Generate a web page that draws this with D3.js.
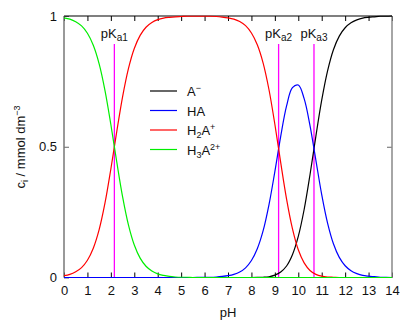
<!DOCTYPE html>
<html>
<head>
<meta charset="utf-8">
<script src="https://cdn.jsdelivr.net/npm/d3@7"></script>
<style>
  body { margin: 0; background: #fff; }
  text { font-family: "Liberation Sans", Arial, sans-serif; fill: #111; }
</style>
</head>
<body>
<div id="chart"></div>
<script>
// pH grid, step 0.25
var pH = d3.range(0, 57).map(i => i / 4);

// fractions
var A_minus = [0,0,0,0,0,0,0,0, 0,0,0,0,0,0,0,0, 0,0,0,0,0,0,0,0, 0,0,0,0,0,0,0,0,
  0,0.0004,0.001,0.003,0.009,0.021,0.044,0.087,0.157,0.260,0.393,0.540,0.678,0.790,0.871,0.923,
  0.955,0.974,0.985,0.992,0.995,0.997,0.999,0.999,1.000];
var HA = [0,0,0,0,0,0,0,0, 0,0,0,0,0,0,0,0, 0,0,0,0,0,0,0,0.0003,
  0.001,0.001,0.002,0.004,0.007,0.012,0.021,0.037,0.065,0.110,0.179,0.279,0.405,0.540,0.656,0.726,
  0.736,0.684,0.581,0.449,0.317,0.208,0.129,0.077,0.045,0.026,0.015,0.008,0.005,0.003,0.001,0.001,0];
var H2A = [0.007,0.012,0.022,0.038,0.066,0.112,0.183,0.285,0.415,0.557,0.691,0.799,0.876,0.926,0.957,0.975,
  0.986,0.992,0.995,0.997,0.998,0.999,0.999,0.999,0.999,0.999,0.998,0.996,0.993,0.988,0.979,0.963,
  0.935,0.890,0.820,0.718,0.586,0.439,0.300,0.187,0.106,0.056,0.027,0.012,0.005,0.002,0.001,0,
  0,0,0,0,0,0,0,0,0];
var H3A = [0.993,0.988,0.978,0.962,0.934,0.888,0.817,0.715,0.585,0.443,0.309,0.201,0.124,0.074,0.043,0.025,
  0.014,0.008,0.004,0.002,0.001,0.001,0,0, 0,0,0,0,0,0,0,0, 0,0,0,0,0,0,0,0, 0,0,0,0,0,0,0,0,
  0,0,0,0,0,0,0,0,0];

var pKa = [2.15, 9.16, 10.67];
var pKaNames = ['a1', 'a2', 'a3'];
var xTicks = d3.range(0, 15);
var yTicks = [0, 0.5, 1];

var series = [
  {name: 'A', sub: '', sup: '\u2212', values: A_minus, color: '#000000'},
  {name: 'HA', sub: '', sup: '', values: HA, color: '#0000ff'},
  {name: 'H', sub: '2', rest: 'A', sup: '+', values: H2A, color: '#ff0000'},
  {name: 'H', sub: '3', rest: 'A', sup: '2+', values: H3A, color: '#00ee00'}
];

const chart_width = 400;
const chart_height = 322;

var svg = d3.select('#chart')
  .append('svg')
  .attr('width', chart_width)
  .attr('height', chart_height);

var x = d3.scaleLinear().domain([0, 14]).range([64, 392]);
var y = d3.scaleLinear().domain([0, 1]).range([277.5, 16]);

// axes with inward ticks
svg.append('g')
  .attr('transform', 'translate(0,' + y(0) + ')')
  .call(d3.axisBottom(x).tickValues(xTicks).tickSize(-5).tickPadding(8).tickFormat(d3.format('d')))
  .call(g => g.select('.domain').remove())
  .call(g => g.selectAll('text').attr('font-size', 13).attr('font-family', null));

svg.append('g')
  .attr('transform', 'translate(0,' + y(1) + ')')
  .call(d3.axisTop(x).tickValues(xTicks).tickSize(-5).tickFormat(''))
  .call(g => g.select('.domain').remove());

svg.append('g')
  .attr('transform', 'translate(' + x(0) + ',0)')
  .call(d3.axisLeft(y).tickValues(yTicks).tickSize(-5).tickPadding(7).tickFormat(d => d === 0.5 ? '0.5' : d))
  .call(g => g.select('.domain').remove())
  .call(g => g.selectAll('line').attr('stroke', '#666'))
  .call(g => g.selectAll('text').attr('font-size', 13).attr('font-family', null));

svg.append('g')
  .attr('transform', 'translate(' + x(14) + ',0)')
  .call(d3.axisRight(y).tickValues([0.5]).tickSize(-5).tickFormat(''))
  .call(g => g.select('.domain').remove())
  .call(g => g.selectAll('line').attr('stroke', '#666'));

// frame
svg.append('line').attr('x1', x(0)).attr('x2', x(0)).attr('y1', y(0)).attr('y2', y(1))
  .attr('stroke', '#777').attr('stroke-width', 1.5);
svg.append('line').attr('x1', x(14)).attr('x2', x(14)).attr('y1', y(0)).attr('y2', y(1))
  .attr('stroke', '#888').attr('stroke-width', 1.5);
svg.append('line').attr('x1', x(0)).attr('x2', x(14)).attr('y1', y(1)).attr('y2', y(1))
  .attr('stroke', '#000').attr('stroke-width', 1.2);
svg.append('line').attr('x1', x(0)).attr('x2', x(14)).attr('y1', y(0)).attr('y2', y(0))
  .attr('stroke', '#000').attr('stroke-width', 1.2);

// pKa markers
svg.selectAll('.pka')
  .data(pKa)
  .enter()
  .append('line')
  .attr('x1', d => x(d)).attr('x2', d => x(d))
  .attr('y1', 44).attr('y2', y(0))
  .attr('stroke', '#ff00ff')
  .attr('stroke-width', 1.3);

var pkl = svg.selectAll('.pkl')
  .data(pKa)
  .enter()
  .append('text')
  .attr('x', d => x(d))
  .attr('y', 38)
  .attr('text-anchor', 'middle')
  .attr('font-size', 13);
pkl.append('tspan').text('pK');
pkl.append('tspan').text((d, i) => pKaNames[i]).attr('font-size', 10).attr('dy', 3);

// curves
var line = d3.line()
  .x((d, i) => x(pH[i]))
  .y(d => y(d))
  .curve(d3.curveCatmullRom.alpha(0.5));

svg.selectAll('.curve')
  .data(series)
  .enter()
  .append('path')
  .attr('d', d => line(d.values))
  .attr('fill', 'none')
  .attr('stroke', d => d.color)
  .attr('stroke-width', 1.2);

// legend
var legend = svg.selectAll('.leg')
  .data(series)
  .enter()
  .append('g')
  .attr('transform', (d, i) => 'translate(150,' + (91 + i * 19.5) + ')');

legend.append('line')
  .attr('x1', 0).attr('x2', 27)
  .attr('stroke', d => d.color)
  .attr('stroke-width', 1.2);

var lt = legend.append('text')
  .attr('x', 37)
  .attr('y', 5)
  .attr('font-size', 13);
lt.append('tspan').text(d => d.name);
lt.filter(d => d.sub).append('tspan').text(d => d.sub).attr('font-size', 9).attr('dy', 3);
lt.filter(d => d.sub).append('tspan').text(d => d.rest).attr('dy', -3);
lt.filter(d => d.sup).append('tspan').text(d => d.sup).attr('font-size', 9).attr('dy', -5);

// axis titles
svg.append('text')
  .attr('x', x(7))
  .attr('y', 317)
  .attr('text-anchor', 'middle')
  .attr('font-size', 13)
  .text('pH');

var yl = svg.append('text')
  .attr('transform', 'translate(25,147) rotate(-90)')
  .attr('text-anchor', 'middle')
  .attr('font-size', 13);
yl.append('tspan').text('c');
yl.append('tspan').text('i').attr('font-size', 9).attr('dy', 3);
yl.append('tspan').text(' / mmol dm').attr('dy', -3);
yl.append('tspan').text('\u22123').attr('font-size', 9).attr('dy', -5);
</script>
</body>
</html>
